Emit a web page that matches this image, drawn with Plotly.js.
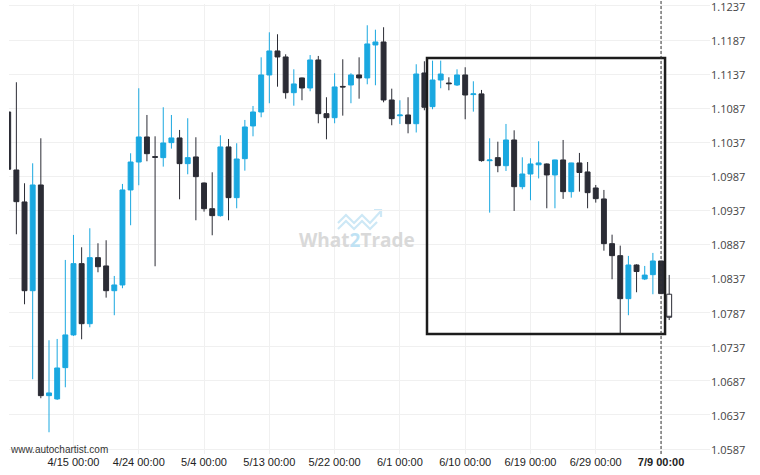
<!DOCTYPE html>
<html>
<head>
<meta charset="utf-8">
<script src="https://cdn.plot.ly/plotly-3.0.1.min.js"></script>
<style>html,body{margin:0;padding:0;background:#fff;}#chart{width:760px;height:475px;}</style>
</head>
<body>
<div id="chart"></div>
<script>
// ---- data ----
const candleIndex = [];
for (let i = 0; i < 82; i++) candleIndex.push(i);

const openPrices = [
1.10815,1.09964,1.09495,1.08193,1.09744,1.06653,1.06605,1.07064,1.07544,1.08590,
1.07709,1.08678,1.08556,1.08193,1.08277,1.09671,1.10081,1.10448,1.10160,1.10145,
1.10365,1.10434,1.10057,1.10155,1.09773,1.09396,1.09294,1.10302,1.09558,1.10130,
1.10610,1.10815,1.11358,1.11710,1.11622,1.11098,1.11314,1.11167,1.11578,1.10790,
1.10731,1.11190,1.11211,1.11358,1.11314,1.11798,1.11842,1.10991,1.10760,1.10771,
1.10643,1.11387,1.10893,1.11284,1.11240,1.11211,1.11358,1.11070,1.11080,1.10100,
1.10145,1.10027,1.10404,1.09719,1.09905,1.10040,1.10052,1.09891,1.10111,1.09646,
1.10067,1.09935,1.09700,1.09539,1.08883,1.08707,1.08076,1.08570,1.08365,1.08428,
1.08629,1.08141];
const highPrices = [
1.10900,1.11251,1.09769,1.10062,1.10429,1.07466,1.07485,1.08644,1.09011,1.08830,
1.09109,1.08889,1.08933,1.08409,1.09759,1.10209,1.11163,1.10771,1.10458,1.10884,
1.10771,1.10551,1.10723,1.10444,1.09780,1.09930,1.10473,1.10419,1.10356,1.10698,
1.10903,1.11617,1.11984,1.11955,1.11661,1.11441,1.11320,1.11650,1.11637,1.11031,
1.11383,1.11588,1.11383,1.11617,1.12087,1.12022,1.12058,1.11157,1.10987,1.11031,
1.11515,1.11559,1.11568,1.11568,1.11324,1.11441,1.11471,1.11265,1.11138,1.10429,
1.10379,1.10639,1.10546,1.10150,1.10136,1.10385,1.10060,1.10115,1.10404,1.10070,
1.10214,1.10081,1.09744,1.09671,1.09015,1.08854,1.08703,1.08580,1.08556,1.08747,
1.08630,1.08424];
const lowPrices = [
1.09900,1.09021,1.07994,1.06894,1.06615,1.06116,1.06590,1.06776,1.07529,1.07480,
1.07656,1.08463,1.08091,1.07833,1.08229,1.09153,1.09740,1.10092,1.08551,1.10013,
1.10277,1.09534,1.09901,1.09226,1.09353,1.09006,1.09279,1.09226,1.09402,1.09954,
1.10458,1.10737,1.10943,1.11186,1.11010,1.10907,1.10987,1.11119,1.10649,1.10414,
1.10649,1.10761,1.10943,1.11010,1.11221,1.11207,1.10957,1.10620,1.10639,1.10502,
1.10514,1.10840,1.10855,1.11163,1.11133,1.11196,1.10708,1.10820,1.10086,1.09338,
1.09931,1.09949,1.09363,1.09681,1.09520,1.09840,1.09402,1.09402,1.09540,1.09558,
1.09646,1.09402,1.09485,1.08780,1.08361,1.07569,1.07833,1.08170,1.08349,1.08141,
1.08150,1.07762];
const closePrices = [
1.09974,1.09499,1.08193,1.09744,1.06653,1.06693,1.07059,1.07544,1.08590,1.07709,
1.08678,1.08545,1.08193,1.08277,1.09671,1.10081,1.10448,1.10203,1.10150,1.10360,
1.10434,1.10057,1.10145,1.09866,1.09396,1.09294,1.10302,1.09558,1.10125,1.10595,
1.10815,1.11358,1.11710,1.11622,1.11098,1.11226,1.11167,1.11578,1.10790,1.10731,
1.11182,1.11182,1.11358,1.11314,1.11813,1.11842,1.10991,1.10717,1.10770,1.10643,
1.11372,1.10884,1.11284,1.11372,1.11230,1.11358,1.11064,1.11080,1.10101,1.10110,
1.10027,1.10404,1.09719,1.09905,1.10052,1.10067,1.09891,1.10111,1.09646,1.10067,
1.09927,1.09631,1.09543,1.08883,1.08707,1.08076,1.08570,1.08474,1.08422,1.08629,
1.08150,1.07803];

const tickIndex = [8,16,24,32,40,48,56,64,72,80];
const tickLabels = ["4/15 00:00","4/24 00:00","5/4 00:00","5/13 00:00","5/22 00:00",
                    "6/1 00:00","6/10 00:00","6/19 00:00","6/29 00:00","7/9 00:00"];
const currentTickLabel = "7/9 00:00";
const priceTicks = [1.0587,1.0637,1.0687,1.0737,1.0787,1.0837,1.0887,1.0937,1.0987,
                    1.1037,1.1087,1.1137,1.1187,1.1237];

// pattern box and "now" marker (index / price)
const patternBox = {x0: 51.32, x1: 80.49, y0: 1.07558, y1: 1.11607};
const nowIndex = 80;

// ---- styles ----
const BLUE = "#1aa8e0", DARK = "#2b2c35";
const L = 9, R = 50, T = 4, B = 21, W = 760, H = 475;
const PW = W - L - R, PH = H - T - B;
const PX = p => (p - L) / PW;
const PY = p => 1 - (p - T) / PH;

const nHist = candleIndex.length - 1;
const hist = {
  type: "candlestick",
  x: candleIndex.slice(0, nHist),
  open: openPrices.slice(0, nHist),
  high: highPrices.slice(0, nHist),
  low: lowPrices.slice(0, nHist),
  close: closePrices.slice(0, nHist),
  increasing: {line: {color: BLUE, width: 1}, fillcolor: BLUE},
  decreasing: {line: {color: DARK, width: 1}, fillcolor: DARK},
  whiskerwidth: 0,
  hoverinfo: "none",
  showlegend: false
};
const live = {
  type: "candlestick",
  x: candleIndex.slice(nHist),
  open: openPrices.slice(nHist),
  high: highPrices.slice(nHist),
  low: lowPrices.slice(nHist),
  close: closePrices.slice(nHist),
  increasing: {line: {color: DARK, width: 1}, fillcolor: "#ffffff"},
  decreasing: {line: {color: DARK, width: 1}, fillcolor: "#ffffff"},
  whiskerwidth: 0,
  hoverinfo: "none",
  showlegend: false
};

const ticktext = tickLabels.map(t => t === currentTickLabel ? "<b>" + t + "</b>" : t);

const iconPts1 = [[338,223],[346,215],[354,223],[362,215],[370,223],[381,211]];
const iconPts2 = [[338,229],[346,221],[354,229],[362,221],[370,229],[377,222]];
const toPath = pts => pts.map((p, i) => (i ? "L" : "M") + PX(p[0]).toFixed(4) + "," + PY(p[1]).toFixed(4)).join(" ");

const layout = {
  width: W, height: H,
  margin: {l: L, r: R, t: T, b: B, pad: 0},
  paper_bgcolor: "#ffffff", plot_bgcolor: "#ffffff",
  boxgap: 0.14,
  showlegend: false,
  font: {family: "Liberation Sans, Arial, sans-serif", size: 11, color: "#333"},
  xaxis: {
    type: "linear",
    range: [0.098, 86.0],
    tickmode: "array", tickvals: tickIndex, ticktext: ticktext,
    showgrid: true, gridcolor: "#f0f0f0", gridwidth: 1,
    zeroline: false, showline: false, ticks: "",
    tickfont: {family: "Liberation Sans Narrow, Liberation Sans, Arial", size: 11, color: "#222"},
    ticklabeloverflow: "allow",
    rangeslider: {visible: false},
    fixedrange: true
  },
  yaxis: {
    side: "right",
    range: [1.05797, 1.12399],
    tickmode: "array", tickvals: priceTicks, ticktext: priceTicks.map(v => v.toFixed(4)),
    showgrid: true, gridcolor: "#f0f0f0", gridwidth: 1,
    zeroline: false, showline: false, ticks: "",
    tickfont: {family: "Open Sans, sans-serif", size: 11, color: "#444"},
    ticklabeloverflow: "allow",
    ticklabelshift: 1,
    fixedrange: true
  },
  shapes: [
    {type: "rect", xref: "x", yref: "y", x0: patternBox.x0, x1: patternBox.x1,
     y0: patternBox.y0, y1: patternBox.y1, line: {color: "#1c1c1c", width: 2.5}, fillcolor: "rgba(0,0,0,0)", layer: "above"},
    {type: "line", xref: "x", yref: "paper", x0: nowIndex, x1: nowIndex, y0: 0, y1: 1.01,
     line: {color: "#333", width: 1, dash: "3px,2px"}, layer: "above"},
    {type: "path", xref: "paper", yref: "paper", path: toPath(iconPts1), line: {color: "#cde8f6", width: 2.2}, layer: "below"},
    {type: "path", xref: "paper", yref: "paper", path: toPath(iconPts2), line: {color: "#cde8f6", width: 2.2}, layer: "below"},
    {type: "path", xref: "paper", yref: "paper",
     path: toPath([[374,210],[381,210],[381,217]]), line: {color: "#cde8f6", width: 2.2}, layer: "below"}
  ],
  annotations: [
    {xref: "paper", yref: "paper", x: PX(357), y: PY(240), xanchor: "center", yanchor: "middle",
     text: "<b>What<span style=\"color:#bfe2f4\">2</span>Trade</b>", showarrow: false,
     font: {family: "Open Sans, sans-serif", size: 19, color: "#d9d9d9"}},
    {xref: "paper", yref: "paper", x: PX(8), y: PY(449), xanchor: "left", yanchor: "middle",
     text: "www.autochartist.com", showarrow: false,
     font: {family: "Liberation Sans, Arial, sans-serif", size: 10, color: "#333"}}
  ]
};

Plotly.newPlot("chart", [hist, live], layout, {staticPlot: true, displayModeBar: false});
</script>
</body>
</html>
